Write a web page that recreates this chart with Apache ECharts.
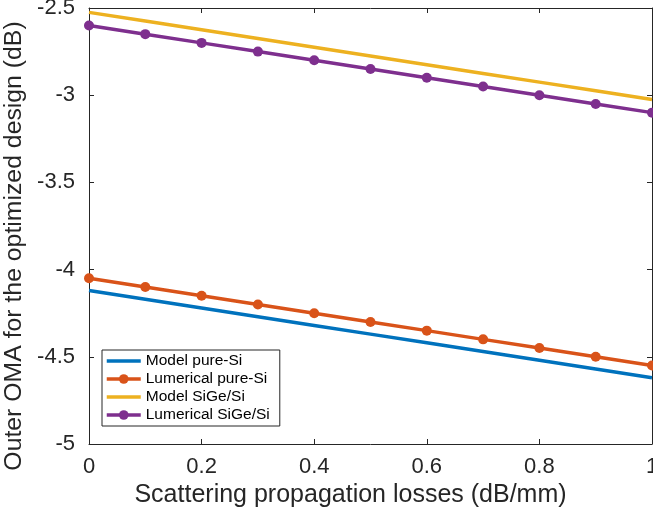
<!DOCTYPE html>
<html>
<head>
<meta charset="utf-8">
<script src="https://cdn.jsdelivr.net/npm/echarts@6/dist/echarts.min.js"></script>
<style>
  html, body { margin: 0; padding: 0; background: #fff; }
  #chart { width: 653px; height: 510px; }
</style>
</head>
<body>
<div id="chart"></div>
<script>
// scattering losses (dB/mm)
const xValues = [0, 0.1, 0.2, 0.3, 0.4, 0.5, 0.6, 0.7, 0.8, 0.9, 1];

// outer OMA (dB)
const modelPureSi = [-4.12, -4.17, -4.22, -4.27, -4.32, -4.37, -4.42, -4.47, -4.52, -4.57, -4.62];
const lumericalPureSi = [-4.05, -4.10, -4.15, -4.20, -4.25, -4.30, -4.35, -4.40, -4.45, -4.50, -4.55];
const modelSiGe = [-2.525, -2.575, -2.625, -2.675, -2.725, -2.775, -2.825, -2.875, -2.925, -2.975, -3.025];
const lumericalSiGe = [-2.60, -2.65, -2.70, -2.75, -2.80, -2.85, -2.90, -2.95, -3.00, -3.05, -3.10];

const seriesNames = ["Model pure-Si", "Lumerical pure-Si", "Model SiGe/Si", "Lumerical SiGe/Si"];
const seriesColors = ["#0072BD", "#D95319", "#EDB120", "#7E2F8E"];
const hasMarkers = [false, true, false, true];

const font = "'Liberation Sans', Arial, Helvetica, sans-serif";
const axisColor = "#262626";

const toPoints = (ys) => xValues.map((x, i) => [x, ys[i]]);

const makeSeries = (idx, ys) => ({
  name: seriesNames[idx],
  type: "line",
  data: toPoints(ys),
  color: seriesColors[idx],
  symbol: hasMarkers[idx] ? "circle" : "none",
  symbolSize: 10,
  showSymbol: hasMarkers[idx],
  lineStyle: { width: 3.5, color: seriesColors[idx] },
  itemStyle: { color: seriesColors[idx] },
  animation: false,
  z: 2 + idx
});

const chart = echarts.init(document.getElementById("chart"));

const boxAxis = {
  axisLine: { show: true, onZero: false, lineStyle: { color: axisColor, width: 1 } },
  axisTick: { show: true, inside: true, length: 5, lineStyle: { color: axisColor } },
  axisLabel: { show: false },
  splitLine: { show: false }
};

// model curves: line only in the legend, no marker
const legendData = seriesNames.map((name, i) => ({
  name: name,
  lineStyle: { width: 3.5 },
  itemStyle: hasMarkers[i] ? {} : { color: "rgba(0,0,0,0)", borderWidth: 0 }
}));

chart.setOption({
  backgroundColor: "#fff",
  grid: { left: 89, right: 1, top: 8, bottom: 66, outerBoundsMode: "none", containLabel: false },
  legend: {
    orient: "vertical",
    left: 102,
    top: 350,
    data: legendData,
    itemWidth: 34,
    itemHeight: 12,
    itemGap: 2,
    padding: [3, 10, 3, 3],
    backgroundColor: "#fff",
    borderColor: axisColor,
    borderWidth: 1,
    borderRadius: 0,
    textStyle: { fontFamily: font, fontSize: 15.5, color: "#000" }
  },
  xAxis: [
    {
      type: "value",
      min: 0,
      max: 1,
      interval: 0.2,
      name: "Scattering propagation losses (dB/mm)",
      nameLocation: "middle",
      nameGap: 36,
      nameTextStyle: { fontFamily: font, fontSize: 25, color: axisColor, padding: [0, 40, 0, 0] },
      axisLine: { show: true, onZero: false, lineStyle: { color: axisColor, width: 1 } },
      axisTick: { show: true, inside: true, length: 5, lineStyle: { color: axisColor } },
      axisLabel: { fontFamily: font, fontSize: 22, color: axisColor, margin: 12 },
      splitLine: { show: false }
    },
    Object.assign({ type: "value", min: 0, max: 1, interval: 0.2, position: "top" }, boxAxis)
  ],
  yAxis: [
    {
      type: "value",
      min: -5,
      max: -2.5,
      interval: 0.5,
      name: "Outer OMA for the optimized design (dB)",
      nameLocation: "middle",
      nameGap: 61,
      nameTextStyle: { fontFamily: font, fontSize: 24.8, color: axisColor, padding: [0, 40, 0, 0] },
      axisLine: { show: true, onZero: false, lineStyle: { color: axisColor, width: 1 } },
      axisTick: { show: true, inside: true, length: 5, lineStyle: { color: axisColor } },
      axisLabel: { fontFamily: font, fontSize: 22, color: axisColor, margin: 14 },
      splitLine: { show: false }
    },
    Object.assign({ type: "value", min: -5, max: -2.5, interval: 0.5, position: "right" }, boxAxis)
  ],
  series: [
    makeSeries(0, modelPureSi),
    makeSeries(1, lumericalPureSi),
    makeSeries(2, modelSiGe),
    makeSeries(3, lumericalSiGe)
  ]
});
</script>
</body>
</html>
